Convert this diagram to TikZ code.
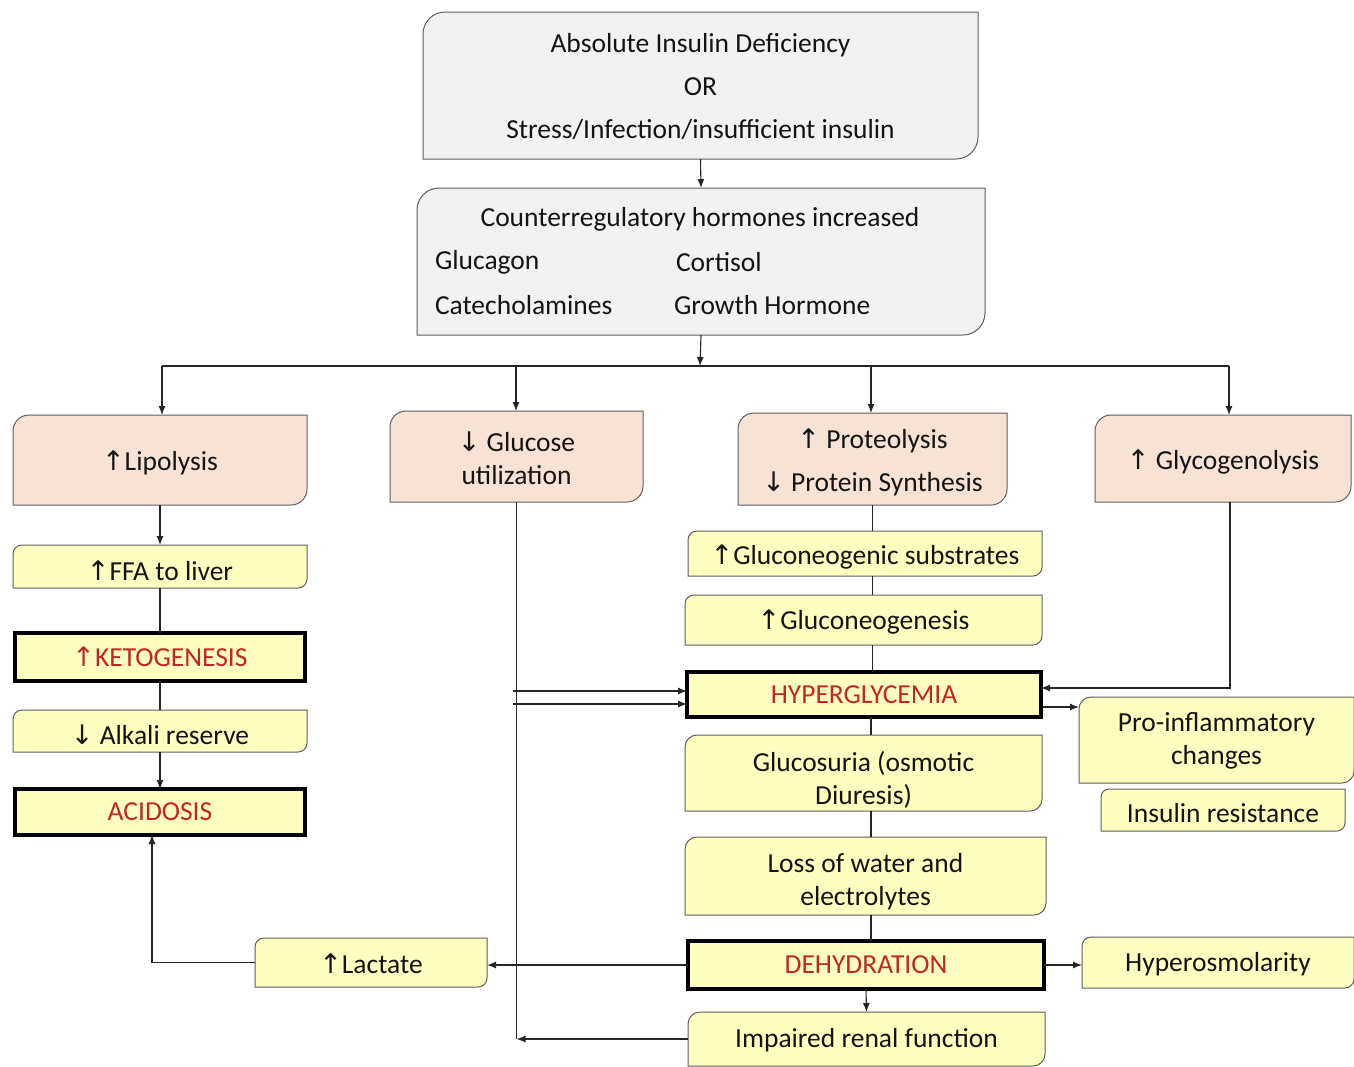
\documentclass[tikz,border=0pt]{standalone}
\usepackage{fontspec}
\setmainfont{Carlito}
\newfontfamily\arrf{DejaVu Sans}
\usetikzlibrary{arrows.meta,backgrounds}
\definecolor{grayfill}{RGB}{242,242,242}
\definecolor{peach}{RGB}{247,227,214}
\definecolor{ylw}{RGB}{254,254,192}
\definecolor{redt}{RGB}{195,38,38}
\definecolor{edge}{RGB}{95,95,95}
\definecolor{txt}{RGB}{20,20,20}
\newcommand\myup{{\arrf\fontsize{27}{27}\selectfont ↑}}
\newcommand\mydn{{\arrf\fontsize{27}{27}\selectfont ↓}}
\tikzset{
  boxtxt/.style={inner sep=0pt, outer sep=0pt, align=center, text=txt,
    font=\fontsize{27.5}{33}\selectfont},
  edgeline/.style={draw=edge, line width=1pt},
  thickbox/.style={boxtxt, draw=black, line width=4pt, fill=ylw, text=redt},
  plaintxt/.style={inner sep=0pt, outer sep=0pt, text=txt, font=\fontsize{27.5}{33}\selectfont},
  conn/.style={line width=1.1pt, draw=black!85},
  arr/.style={conn, -{Latex[length=9pt,width=7pt]}},
}
% name, cx, cy, w, h, fill, radius, text dy, text
\newcommand\rb[9]{%
  \node[inner sep=0pt, outer sep=0pt, minimum width=#4pt, minimum height=#5pt] (#1) at (#2,#3) {};
  \node[boxtxt] (#1-t) at ([yshift=-#8pt]#1.center) {#9};
  \begin{scope}[on background layer]
    \draw[edgeline, fill=#6] ([yshift=-#7pt]#1.north west)
      arc[start angle=180, end angle=90, radius=#7pt] -- (#1.north east)
      -- ([yshift=#7pt]#1.south east)
      arc[start angle=0, end angle=-90, radius=#7pt] -- (#1.south west) -- cycle;
  \end{scope}}
\begin{document}
\begin{tikzpicture}[x=1pt, y=-1pt]
\useasboundingbox (0,0) rectangle (1354,1066);
\begin{scope}[on background layer]
\fill[white] (0,0) rectangle (1354,1066);
\end{scope}

% top boxes
\rb{A}{700.5}{85.5}{555}{147}{grayfill}{22}{1}{Absolute Insulin Deficiency\\[10pt] OR\\[10pt] Stress/Infection/insufficient insulin}
\rb{B}{701}{261.5}{568}{147}{grayfill}{22}{0}{}
\node[plaintxt] (Bt) at (700,219) {Counterregulatory hormones increased};
\node[plaintxt, anchor=west] (Bg) at (435,262) {Glucagon};
\node[plaintxt, anchor=west] (Bc) at (676,262) {Cortisol};
\node[plaintxt, anchor=west] (Bca) at (435,305) {Catecholamines};
\node[plaintxt, anchor=west] (Bgh) at (674,305) {Growth Hormone};

% second row (peach)
\rb{Lip}{160}{460}{294}{90}{peach}{16}{3}{\myup Lipolysis}
\rb{Glu}{516.5}{456.5}{253}{91}{peach}{16}{2}{\mydn{} Glucose\\ utilization}
\rb{Prot}{872.5}{459}{269}{92}{peach}{16}{3}{\myup{} Proteolysis\\[10pt] \mydn{} Protein Synthesis}
\rb{Glyc}{1223}{458.5}{256}{87}{peach}{16}{3}{\myup{} Glycogenolysis}

% left column
\rb{FFA}{160}{566.5}{294}{43}{ylw}{9}{4}{\myup FFA to liver}
\node[thickbox, minimum width=290pt, minimum height=48pt] (Keto) at (160,657) {\myup KETOGENESIS};
\rb{Alk}{160}{731}{294}{42}{ylw}{9}{4}{\mydn{} Alkali reserve}
\node[thickbox, minimum width=290pt, minimum height=46pt] (Acid) at (160,812) {ACIDOSIS};
\rb{Lact}{371}{962.5}{232}{49}{ylw}{9}{1}{\myup Lactate}

% centre column
\rb{Subs}{865}{553.5}{354}{45}{ylw}{9}{3}{\myup Gluconeogenic substrates}
\rb{Gneo}{863.5}{620}{357}{50}{ylw}{9}{2}{\myup Gluconeogenesis}
\node[thickbox, minimum width=354pt, minimum height=45pt] (Hyper) at (864,694.5) {HYPERGLYCEMIA};
\rb{Glucos}{863.5}{773}{357}{76}{ylw}{12}{7}{Glucosuria (osmotic\\ Diuresis)}
\rb{Loss}{865.5}{876}{361}{78}{ylw}{12}{6}{Loss of water and\\ electrolytes}
\node[thickbox, minimum width=356pt, minimum height=48pt] (Dehy) at (866,965) {DEHYDRATION};
\rb{Renal}{866.5}{1039}{357}{54}{ylw}{12}{1}{Impaired renal function}

% right column
\rb{Proinf}{1216.5}{740}{275}{86}{ylw}{12}{1}{Pro-inflammatory\\ changes}
\rb{Insres}{1223}{810}{244}{42}{ylw}{8}{3}{Insulin resistance}
\rb{Hyperos}{1218}{962.5}{272}{51}{ylw}{9}{2}{Hyperosmolarity}

% connectors
\draw[arr] (A.south) -- (B.north);
\coordinate (hub) at (700,366);
\coordinate (hL) at (162,366);
\coordinate (hG) at (516,366);
\coordinate (hP) at (871,366);
\coordinate (hY) at (1229,366);
\draw[arr] (B.south) -- (hub);
\draw[conn] (hL) -- (hY);
\draw[arr] (hL) -- (hL |- Lip.north);
\draw[arr] (hG) -- (hG |- Glu.north);
\draw[arr] (hP) -- (hP |- Prot.north);
\draw[arr] (hY) -- (hY |- Glyc.north);

\draw[arr] (Lip.south) -- (FFA.north);
\draw[conn] (FFA.south) -- (Keto.north);
\draw[conn] (Keto.south) -- (Alk.north);
\draw[arr] (Alk.south) -- (Acid.south |- Acid.north);
\draw[arr] (Lact.west) -| ([xshift=-8pt]Acid.south);
\draw[arr] (Dehy.west) -- (Dehy.west -| Lact.east);

% glucose utilization line and renal return
\draw[conn] (Glu.south) -- (Glu.south |- Renal.west);
\draw[arr] (Renal.west) -- (Renal.west -| Glu.south);
\coordinate (g1) at (513,691);
\coordinate (g2) at (513,704);
\draw[arr] (g1) -- (g1 -| Hyper.west);
\draw[arr] (g2) -- (g2 -| Hyper.west);

% proteolysis chain
\draw[conn] (Prot.south) -- (Prot.south |- Subs.north);
\draw[conn] (Prot.south |- Subs.south) -- (Prot.south |- Gneo.north);
\draw[conn] (Prot.south |- Gneo.south) -- (Prot.south |- Hyper.north);

% glycogenolysis
\coordinate (gy) at (1230,688);
\draw[arr] (Glyc.south -| gy) -- (gy) -- (gy -| Hyper.east);
\coordinate (hp) at (1043,707);
\draw[arr] (hp) -- (hp -| Proinf.west);

% hyperglycemia chain
\coordinate (cx) at (871,0);
\draw[conn] (cx |- Hyper.south) -- (cx |- Glucos.north);
\draw[conn] (cx |- Glucos.south) -- (cx |- Loss.north);
\draw[conn] (cx |- Loss.south) -- (cx |- Dehy.north);
\draw[arr] (Dehy.east) -- (Dehy.east -| Hyperos.west);
\draw[arr] (Dehy.south) -- (Renal.north);
\end{tikzpicture}
\end{document}
